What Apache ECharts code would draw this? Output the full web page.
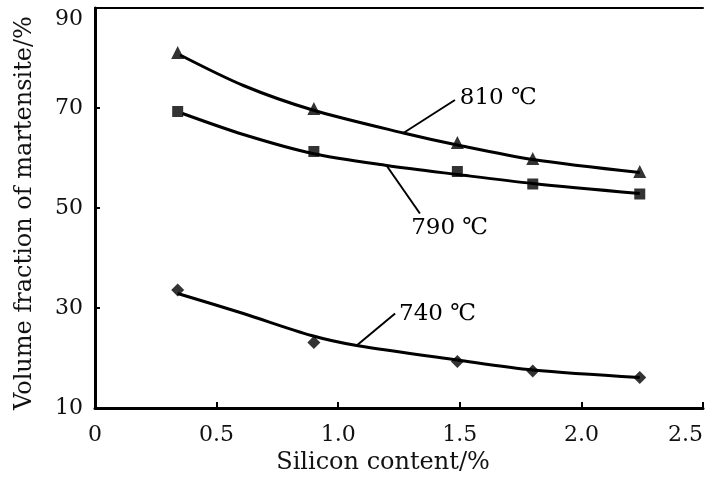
<!DOCTYPE html>
<html>
<head>
<meta charset="utf-8">
<script src="https://cdn.jsdelivr.net/npm/echarts@6/dist/echarts.min.js"></script>
<style>
html,body{margin:0;padding:0;background:#fff;overflow:hidden;}
#chart{width:710px;height:482px;}
</style>
</head>
<body>
<div id="chart"></div>
<script>
// ---- data ----
const siliconX = [0.34, 0.9, 1.49, 1.8, 2.24];
const m810 = [81.1, 69.9, 63.1, 59.9, 57.3];
const m790 = [69.3, 61.3, 57.3, 54.8, 52.8];
const m740 = [33.6, 23.1, 19.3, 17.4, 16.1];

// fitted curves
const fitX810 = [0.35, 0.61, 0.895, 1.268, 1.49, 1.8, 2.24];
const fit810 = [80.6, 74.5, 69.6, 65.0, 62.6, 59.7, 57.1];
const fitX790 = [0.36, 0.61, 0.895, 1.2, 1.49, 1.8, 2.24];
const fit790 = [68.9, 64.7, 60.9, 58.5, 56.7, 54.9, 52.9];
const fitX740 = [0.34, 0.61, 0.89, 1.076, 1.49, 1.8, 2.24];
const fit740 = [32.9, 28.9, 24.5, 22.5, 19.6, 17.6, 16.1];

const xTickLabels = ['0', '0.5', '1.0', '1.5', '2.0', '2.5'];
const yTickLabels = ['10', '30', '50', '70', '90'];
const seriesNames = ['810 \u2103', '790 \u2103', '740 \u2103'];

// annotation anchors (data space): leader start, leader end, label anchor
const leaderStart = [[1.268, 65.0], [1.2, 58.4], [1.076, 22.5]];
const leaderEnd = [[1.48, 71.6], [1.336, 48.9], [1.234, 28.9]];
const labelAt = [[1.5, 72.0], [1.3, 46.0], [1.25, 28.7]];

const FONT = 'DejaVu Serif, Liberation Serif, serif';
const pair = (xs, ys) => xs.map((x, i) => [x, ys[i]]);

const markers = ['triangle', 'rect', 'diamond'];
const markerSize = [13, 11, 13];
const markData = [m810, m790, m740];
const fitXs = [fitX810, fitX790, fitX740];
const fitYs = [fit810, fit790, fit740];

const series = [];
for (let k = 0; k < 3; k++) {
  series.push({
    type: 'line',
    name: seriesNames[k] + ' fit',
    data: pair(fitXs[k], fitYs[k]),
    smooth: 0.3,
    showSymbol: false,
    silent: true,
    lineStyle: { color: '#000', width: 3 },
    markLine: {
      silent: true,
      symbol: ['none', 'none'],
      label: { show: false },
      lineStyle: { color: '#000', width: 2, type: 'solid' },
      data: [[{ coord: leaderStart[k] }, { coord: leaderEnd[k] }]]
    },
    z: 2
  });
  series.push({
    type: 'scatter',
    name: seriesNames[k],
    data: pair(siliconX, markData[k]),
    symbol: markers[k],
    symbolSize: markerSize[k],
    itemStyle: { color: '#000' },
    z: 3
  });
}
series.push({
  type: 'scatter',
  name: 'notes',
  data: labelAt.map((p, k) => [p[0], p[1], seriesNames[k]]),
  symbolSize: 0,
  silent: true,
  itemStyle: { color: '#000', opacity: 1 },
  label: {
    show: true,
    position: 'right',
    distance: 0,
    formatter: p => p.value[2],
    fontFamily: FONT,
    fontSize: 23,
    color: '#000'
  }
});

const chart = echarts.init(document.getElementById('chart'), null, { renderer: 'canvas' });
chart.setOption({
  animation: false,
  backgroundColor: '#fff',
  grid: { left: 95, right: 7, top: 8, bottom: 74, containLabel: false, outerBoundsMode: 'none' },
  xAxis: [{
    type: 'value', min: 0, max: 2.5, interval: 0.5,
    axisLine: { show: true, onZero: false, lineStyle: { color: '#000', width: 3 } },
    axisTick: { show: true, inside: true, length: 6, lineStyle: { color: '#000', width: 2 } },
    axisLabel: {
      margin: 16, color: '#111', fontFamily: FONT, fontSize: 22,
      alignMaxLabel: 'right',
      formatter: v => xTickLabels[Math.round(v / 0.5)]
    },
    splitLine: { show: false },
    name: 'Silicon content/%',
    nameLocation: 'middle',
    nameGap: 40,
    nameTextStyle: { fontFamily: FONT, fontSize: 24, color: '#111', padding: [0, 32, 0, 0] }
  }, {
    type: 'value', min: 0, max: 2.5, position: 'top',
    axisLine: { show: true, lineStyle: { color: '#000', width: 2 } },
    axisTick: { show: false }, axisLabel: { show: false }, splitLine: { show: false }
  }],
  yAxis: [{
    type: 'value', min: 10, max: 90, interval: 20,
    axisLine: { show: true, onZero: false, lineStyle: { color: '#000', width: 3 } },
    axisTick: { show: true, inside: true, length: 5, lineStyle: { color: '#000', width: 2 } },
    axisLabel: {
      margin: 12, color: '#111', fontFamily: FONT, fontSize: 22,
      verticalAlignMaxLabel: 'top',
      formatter: v => yTickLabels[Math.round((v - 10) / 20)]
    },
    splitLine: { show: false },
    name: 'Volume fraction of martensite/%',
    nameLocation: 'middle',
    nameGap: 58,
    nameTextStyle: { fontFamily: FONT, fontSize: 24, color: '#111', padding: [0, 10, 0, 0] }
  }, {
    type: 'value', min: 10, max: 90, position: 'right',
    axisLine: { show: true, lineStyle: { color: '#000', width: 2 } },
    axisTick: { show: false }, axisLabel: { show: false }, splitLine: { show: false }
  }],
  series: series
});
</script>
</body>
</html>
